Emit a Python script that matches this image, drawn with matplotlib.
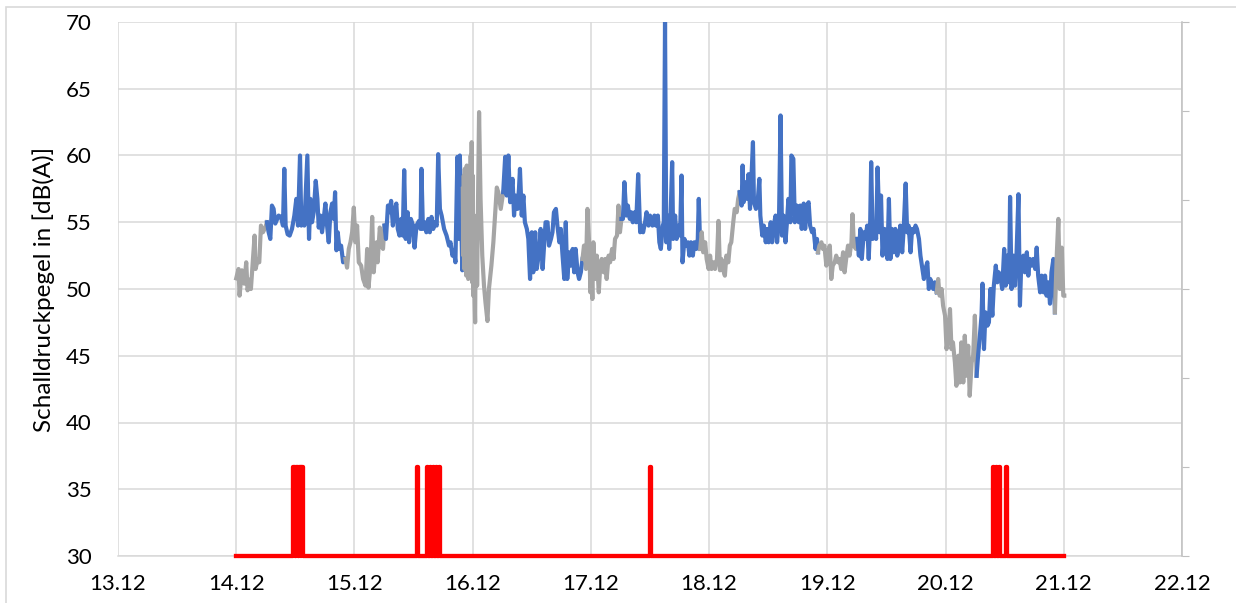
import datetime
import matplotlib
matplotlib.use("Agg")
from matplotlib import pyplot as plt
import matplotlib.dates as mdates
from matplotlib.patches import Rectangle

# sound level, hours since 14.12 00:00 and dB(A)
t_hours = [
    0.0, 0.47, 0.68, 1.15, 1.63, 2.03, 2.3, 2.71, 2.98, 3.39, 3.73, 3.93, 4.34, 4.68, 5.02, 5.42, 5.9,
    6.24, 6.58, 6.92, 7.25, 7.59, 7.93, 8.61, 9.09, 9.49, 9.76, 10.03, 10.44, 10.85, 11.32, 11.8, 12.2,
    12.54, 12.95, 13.22, 13.56, 13.83, 14.44, 14.78, 15.05, 15.39, 15.73, 16.14, 16.48, 16.75, 17.09,
    17.42, 17.76, 18.1, 18.44, 18.78, 19.12, 19.46, 19.8, 20.07, 20.34, 20.61, 20.95, 21.29, 21.7,
    22.17, 22.5, 22.85, 23.19, 23.53, 23.87, 24.2, 24.54, 24.88, 25.36, 25.76, 26.24, 26.58, 26.85,
    27.26, 27.6, 27.9,
    28.2, 28.5, 28.7, 29.15, 29.5, 29.8, 30.1, 30.4, 30.8, 31.1, 31.45, 31.8, 32.1, 32.5, 32.8, 33.15,
    33.5, 33.8, 34.1, 34.4, 34.8, 35.1, 35.45, 35.9, 36.2, 36.6, 37.1, 37.4, 37.6, 37.9, 38.3, 38.6,
    39.0, 39.3, 39.65, 40.0, 40.3, 40.7, 41.0, 41.35, 41.7, 42.2, 42.7, 43.2, 43.5, 43.9, 44.2, 44.5,
    44.9, 45.15, 45.4, 45.7, 45.9,
    46.0, 46.1, 46.2, 46.3, 46.4, 46.5, 46.6, 46.7, 46.8, 46.9, 47.0, 47.1, 47.2, 47.3, 47.4, 47.5,
    47.6, 47.7, 47.8, 47.9, 48.0, 48.1, 48.2, 48.3, 48.4, 48.5, 48.6, 48.7, 48.8, 48.9, 49.1, 49.3,
    49.6, 49.95, 50.3, 50.6, 51.0, 51.3, 51.8, 52.2, 52.5, 52.9, 53.2, 53.7, 54.2, 54.6, 54.9, 55.25,
    55.6,
    56.1, 56.4, 56.7, 57.1, 57.4, 57.6, 57.96, 58.3, 58.6, 59.0, 59.3, 59.65, 60.0, 60.3, 60.7, 61.0,
    61.5, 61.8, 62.2, 62.5, 62.8, 63.2, 63.5, 63.9, 64.2, 64.5, 64.9, 65.2, 65.6, 65.9, 66.2, 66.6,
    66.9, 67.2, 67.6, 67.9, 68.3, 68.6, 68.9, 69.3, 69.6, 69.96, 70.3, 70.6, 71.0, 71.3, 71.7, 71.9,
    72.1, 72.3, 72.5, 72.9, 73.2, 73.6, 73.9, 74.2, 74.6, 74.9, 75.2, 75.6, 75.9, 76.3, 76.6, 76.9,
    77.3, 77.6, 77.9, 78.2, 78.5, 78.8, 79.2, 79.5, 79.9, 80.2, 80.5, 80.9, 81.2, 81.6, 82.0, 82.3,
    82.6, 83.0, 83.3, 83.7, 84.0,
    84.5, 84.9, 85.2, 85.6, 85.9, 86.2, 86.6, 86.8, 87.05, 87.3, 87.6, 87.9, 88.1, 88.5, 88.7, 89.1,
    89.4, 89.8, 90.1, 90.4, 90.6, 91.0, 91.3, 91.7, 92.0, 92.3, 92.7, 93.0, 93.4, 93.7, 93.9, 94.2,
    94.5, 94.8, 95.2, 95.5, 95.9, 96.2, 96.5, 96.9, 97.2, 97.6, 97.9, 98.2, 98.5, 98.8, 99.2, 99.5,
    99.9, 100.2, 100.5, 100.9, 101.2, 101.6, 101.9, 102.2, 102.6, 102.8, 103.0, 103.4, 103.7, 104.0,
    104.3, 104.5, 104.9, 105.1, 105.5, 105.8, 106.2, 106.4, 106.8, 107.1, 107.5, 107.8, 108.1, 108.5,
    108.8, 109.1, 109.5, 109.8, 110.2, 110.5, 110.8, 111.1, 111.5, 111.8, 112.1, 112.5, 112.7, 113.1,
    113.4,
    113.8, 114.2, 114.5, 114.8, 115.2, 115.5, 115.9, 116.2, 116.5, 116.9, 117.2, 117.6, 117.9, 118.1,
    118.4, 118.8, 119.1, 119.4, 119.8, 120.1, 120.5, 120.8, 121.1, 121.5, 121.8, 122.2, 122.5, 122.8,
    123.2, 123.5, 123.9, 124.2, 124.5, 124.9, 125.1, 125.4, 125.8, 126.1, 126.4, 126.7, 127.0, 127.4,
    127.7, 128.1, 128.4, 128.7, 128.9, 129.2, 129.6, 129.9, 130.2, 130.6, 130.9, 131.2, 131.6, 131.9,
    132.2, 132.5, 132.8, 133.1, 133.5, 133.8, 134.2, 134.5, 134.8, 135.2, 135.5, 135.9, 136.2, 136.5,
    136.9, 137.2, 137.6, 137.9, 138.2, 138.6, 138.9, 139.2, 139.6, 139.9, 140.3, 140.6, 140.9, 141.3,
    141.5, 141.8, 142.2, 142.5, 142.8, 143.2, 143.5, 143.9, 144.2, 144.5, 144.9, 145.2, 145.5, 145.9,
    146.2, 146.6, 146.9, 147.2, 147.6, 147.9, 148.3, 148.6, 148.9, 149.3, 149.6, 149.95, 150.3, 150.6,
    150.97, 151.3, 151.5, 151.8, 152.1, 152.5, 152.8, 153.1, 153.5, 153.8, 154.2, 154.5, 154.8, 155.2,
    155.5, 155.9, 156.2, 156.5, 156.9, 157.1, 157.4, 157.8, 158.1, 158.4, 158.8, 159.1, 159.4, 159.8,
    160.1, 160.5, 160.8, 161.1, 161.5, 161.8, 162.2, 162.5, 162.8, 163.2, 163.5, 163.9, 164.2, 164.5,
    164.9, 165.2, 165.5, 165.9, 166.2, 166.6, 166.9, 167.2, 167.6, 167.9, 168.1,
]
level_db = [
    50.8, 51.5, 49.5, 51.4, 50.4, 52.0, 49.9, 50.7, 50.0, 52.2, 54.0, 51.5, 52.2, 52.0, 54.75, 54.25, 54.6,
    55.0, 54.25, 53.75, 56.25, 56.0, 54.9, 55.5, 55.4, 54.75, 59.0, 54.75, 54.1, 54.0, 54.5, 55.5, 56.75,
    54.75, 60.0, 54.75, 55.75, 54.75, 60.0, 53.75, 56.75, 55.0, 55.75, 58.1, 56.75, 54.6, 55.5,
    54.25, 55.25, 56.4, 54.75, 53.5, 55.75, 56.4, 55.25, 57.25, 52.9, 54.25, 53.0, 53.25, 52.0,
    52.25, 51.6, 53.0, 53.5, 54.25, 56.1, 53.5, 54.75, 52.0, 51.75, 50.75, 50.25, 53.0, 50.1,
    51.75, 55.4, 51.25,
    52.5, 53.5, 52.0, 54.6, 53.25, 53.0, 54.75, 53.75, 56.25, 55.75, 56.6, 54.75, 55.75, 56.4, 54.5, 54.0,
    55.25, 54.0, 58.9, 53.75, 55.75, 53.5, 55.25, 54.75, 53.1, 54.75, 55.1, 54.5, 59.0, 54.5, 55.0, 54.25,
    55.25, 54.25, 55.4, 54.5, 55.0, 54.75, 60.1, 56.0, 55.5, 54.5, 54.0, 53.25, 53.5, 52.5, 52.9, 52.0,
    59.9, 53.75, 60.0, 54.75, 51.4,
    57.5, 52.5, 58.5, 51.5, 59.0, 52.0, 58.0, 51.0, 59.25, 52.5, 58.5, 50.75, 59.0, 51.5, 58.0, 52.0,
    60.0, 51.0, 61.0, 50.5, 58.5, 49.5, 55.25, 52.0, 49.0, 47.5, 53.75, 51.0, 55.5, 50.25, 57.0, 63.25,
    56.75, 52.5, 50.25, 49.0, 47.6, 50.0, 51.75, 53.5, 55.25, 57.6, 57.25, 56.0, 57.25, 59.9, 57.0, 60.0,
    56.5,
    58.25, 55.5, 57.0, 56.0, 57.5, 59.0, 55.5, 57.0, 55.0, 54.5, 53.75, 50.75, 54.25, 51.25, 54.25, 51.5,
    52.75, 54.5, 51.5, 53.25, 55.0, 55.0, 53.25, 53.75, 54.25, 55.75, 56.0, 54.75, 53.5, 54.5, 52.75, 50.75,
    55.0, 50.75, 52.75, 51.75, 53.0, 51.25, 53.0, 51.25, 50.75, 51.25, 52.25, 53.25, 51.5, 56.0, 53.0, 49.75,
    51.75, 49.25, 53.5, 50.75, 52.5, 49.75, 51.75, 52.25, 51.25, 52.25, 50.75, 52.5, 52.0, 53.0, 52.25, 53.75,
    54.0, 56.25, 54.25, 55.25, 55.25, 58.0, 55.5, 56.25, 55.25, 55.75, 55.0, 55.75, 55.0, 58.6, 54.25, 54.75,
    54.25, 55.0, 55.75, 54.75, 55.5,
    54.75, 55.5, 54.75, 55.5, 53.5, 53.0, 54.75, 55.0, 70.0, 53.5, 55.5, 53.0, 54.5, 59.5, 53.75, 55.5,
    53.75, 54.75, 54.0, 58.5, 52.0, 53.75, 53.25, 53.5, 52.5, 53.5, 52.5, 53.5, 53.0, 53.75, 56.75, 53.0,
    54.25, 52.75, 53.5, 52.25, 51.5, 52.5, 51.5, 52.0, 51.5, 52.25, 55.1, 51.4, 52.25, 51.5, 51.0, 52.5,
    52.0, 53.25, 53.5, 55.0, 56.0, 55.75, 56.75, 57.25, 56.25, 59.25, 56.5, 58.0, 56.75, 58.6,
    56.0, 57.5, 61.0, 56.5, 56.0, 56.25, 58.25, 55.5, 54.0, 54.75, 53.5, 54.5, 53.5, 55.0,
    53.5, 54.75, 55.5, 53.5, 55.5, 63.0, 54.0, 55.5, 53.5, 55.0, 56.75, 55.0, 60.0, 59.75,
    55.0,
    56.25, 55.0, 56.25, 54.5, 56.4, 54.5, 56.25, 56.5, 54.75, 54.25, 54.5, 53.0, 53.75, 52.75,
    53.25, 53.5, 53.0, 53.25, 51.75, 52.75, 53.25, 50.75, 51.75, 52.0, 52.5, 52.0, 52.25, 51.5,
    52.75, 51.25, 52.5, 53.25, 52.5, 53.5, 55.6, 53.25, 53.0, 53.75, 52.5, 54.5, 52.25, 54.25,
    53.75, 54.75, 52.25, 55.0, 59.5, 53.75, 54.75, 53.75, 59.1, 54.25, 57.0, 52.5, 54.5, 53.75,
    52.25, 56.75, 52.25, 54.5, 52.75, 54.5, 52.5, 53.25, 54.75, 52.75, 54.5, 57.9, 54.25, 54.75,
    52.75, 54.5, 54.25, 54.75, 54.5, 53.75, 52.5, 51.75, 50.75, 51.5, 52.0, 50.0, 50.75, 50.25,
    50.0, 50.5, 49.75, 50.75, 49.5, 50.0, 48.75, 48.0, 45.5, 46.25, 48.5, 45.5, 46.0, 44.5,
    42.75, 45.0, 43.0, 46.0, 43.0, 46.5, 43.5, 45.75, 42.0, 44.5, 45.0, 48.0, 43.5, 45.0,
    46.5, 48.0, 50.4, 45.5, 48.25, 47.25, 47.5, 50.0, 48.0, 50.25, 51.75, 50.5, 51.25, 50.75,
    50.0, 53.0, 50.25, 52.5, 50.5, 56.9, 50.0, 52.5, 50.25, 52.5, 57.1, 48.75, 52.25, 52.5,
    51.25, 52.75, 51.0, 52.25, 51.75, 52.25, 51.5, 53.1, 51.0, 49.75, 51.0, 49.75, 51.0, 49.5,
    50.5, 48.9, 51.25, 52.25, 48.25, 52.75, 55.25, 50.0, 53.1, 49.5, 49.5,
]

# red marker series: switched on between these hours
red_on = [11.6, 12.2, 12.8, 13.2, 36.8, 38.7, 39.3, 39.9, 40.5, 41.1, 84.05, 153.6, 154.2, 154.8, 156.3]
red_off = [11.9, 12.5, 13.1, 13.5, 36.9, 39.0, 39.6, 40.2, 40.8, 41.4, 84.15, 153.9, 154.5, 155.1, 156.45]
red_base = 30.0
red_peak = 36.7
red_end = 168.0

start = datetime.datetime(2019, 12, 14)


def to_time(h):
    return start + datetime.timedelta(hours=h)


def is_day(h):
    return 6 <= h % 24 < 22


fig = plt.figure(figsize=(12.36, 6.03), dpi=100)
plt.rcParams["font.family"] = ["Lato", "DejaVu Sans"]
ax = fig.add_axes([118 / 1236, 1 - 556 / 603, (1182 - 118) / 1236, (556 - 22) / 603])

# split into day (blue) and night (grey) runs
runs = []
cur = [0]
for i in range(1, len(t_hours)):
    if is_day(t_hours[i]) == is_day(t_hours[cur[0]]):
        cur.append(i)
    else:
        runs.append(cur)
        cur = [i]
runs.append(cur)

for k, r in enumerate(runs):
    idx = list(r)
    if k + 1 < len(runs):
        idx.append(runs[k + 1][0])
    color = "#4472C4" if is_day(t_hours[r[0]]) else "#A5A5A5"
    ax.plot([to_time(t_hours[i]) for i in idx], [level_db[i] for i in idx],
            color=color, linewidth=3.0, solid_joinstyle="round", zorder=3)

red_t = [0.0]
red_v = [red_base]
for a, b in zip(red_on, red_off):
    red_t += [a, a, b, b]
    red_v += [red_base, red_peak, red_peak, red_base]
red_t.append(red_end)
red_v.append(red_base)
ax.plot([to_time(h) for h in red_t], red_v, color="#FF0000", linewidth=3.1, zorder=4, clip_on=False)

ax.set_ylim(30, 70)
ax.set_yticks(range(30, 71, 5))
ax.set_xlim(datetime.datetime(2019, 12, 13), datetime.datetime(2019, 12, 22))
ax.xaxis.set_major_locator(mdates.DayLocator())
ax.xaxis.set_major_formatter(mdates.DateFormatter("%d.%m"))
ax.grid(True, color="#D9D9D9", linewidth=1.1)
ax.set_axisbelow(True)
for s in ["top", "left", "right"]:
    ax.spines[s].set_visible(False)
ax.spines["bottom"].set_color("#D9D9D9")
ax.spines["bottom"].set_linewidth(1.1)
ax.tick_params(axis="both", length=0, labelsize=16, labelcolor="black")
ax.tick_params(axis="y", pad=19)
ax.tick_params(axis="x", pad=13)
ax.set_ylabel("Schalldruckpegel in [dB(A)]", fontsize=17.5, labelpad=8)

# secondary axis on the right, ticks only
ax2 = ax.twinx()
ax2.set_ylim(0, 6)
ax2.set_yticks(range(7))
ax2.tick_params(axis="y", length=5, color="#BFBFBF", labelright=False)
for s in ["top", "left", "bottom"]:
    ax2.spines[s].set_visible(False)
ax2.spines["right"].set_color("#BFBFBF")
ax2.spines["right"].set_linewidth(1.1)

fig.patches.append(Rectangle((6 / 1236, -0.1), 2, 1 - 7 / 603 + 0.1, transform=fig.transFigure,
                             fill=False, edgecolor="#D9D9D9", linewidth=1.2))

plt.savefig("out.png", dpi=100)
